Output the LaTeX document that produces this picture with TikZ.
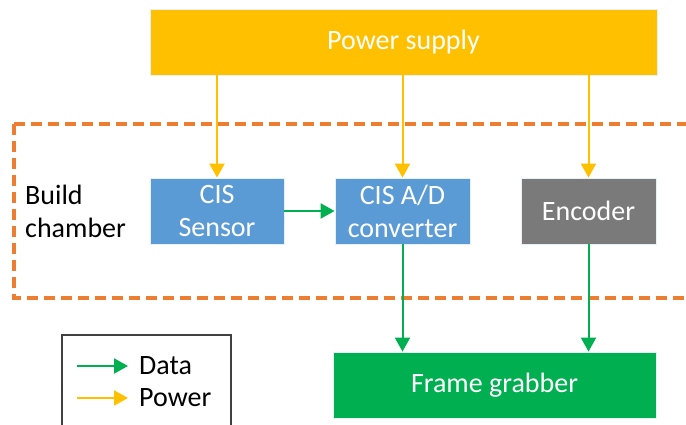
\documentclass[tikz,border=0pt]{standalone}
\usepackage{fontspec}
\setmainfont{Carlito}
\usetikzlibrary{arrows.meta}
\definecolor{psyellow}{HTML}{FFC000}
\definecolor{cisblue}{HTML}{5B9BD5}
\definecolor{encgray}{HTML}{7A7A7A}
\definecolor{datagreen}{HTML}{00B050}
\definecolor{chamberorange}{HTML}{ED7D31}
\definecolor{legendedge}{HTML}{404040}
\tikzset{
  block/.style={draw=white!85!cisblue, line width=0.8pt, text=white, align=center, font=\fontsize{28}{33}\selectfont, inner sep=0pt},
  powerline/.style={draw=psyellow, line width=2pt, -{Triangle[length=14pt,width=15pt]}},
  dataline/.style={draw=datagreen, line width=2pt, -{Triangle[length=14pt,width=15pt]}},
  lbl/.style={font=\fontsize{28}{33}\selectfont, align=left, inner sep=0pt}
}
\begin{document}
\begin{tikzpicture}[x=1pt,y=-1pt]
\useasboundingbox (0,0) rectangle (686,425);
% build chamber
\draw[chamberorange, line width=4pt, dash pattern=on 11pt off 6pt] (14,124) -- (700,124) (14,124) -- (14,298) -- (700,298);
\node[lbl, anchor=west] (chamber) at (25,211) {Build\\chamber};
% blocks
\node[block, fill=psyellow, minimum width=507pt, minimum height=66pt] (ps) at (403.5,42) {Power supply};
\node[block, fill=cisblue, minimum width=134pt, minimum height=66pt] (sensor) at (217,211) {CIS\\Sensor};
\node[block, fill=cisblue, minimum width=135pt, minimum height=66pt] (adc) at (402.5,211) {CIS A/D\\converter};
\node[block, fill=encgray, minimum width=135pt, minimum height=66pt] (enc) at (588.5,211) {Encoder};
\node[block, fill=datagreen, minimum width=323pt, minimum height=66pt] (fg) at (494.5,385) {Frame grabber};
% power connectors
\draw[powerline] (ps.south -| sensor.north) -- (sensor.north);
\draw[powerline] (ps.south -| adc.north) -- (adc.north);
\draw[powerline] (ps.south -| enc.north) -- (enc.north);
% data connectors
\draw[dataline] (sensor.east) -- (adc.west);
\draw[dataline] (adc.south) -- (adc.south |- fg.north);
\draw[dataline] (enc.south) -- (enc.south |- fg.north);
% legend
\draw[legendedge, line width=1.5pt] (62,440) -- (62,335) -- (231,335) -- (231,440);
\coordinate (d0) at (77,366);
\coordinate (d1) at (128,366);
\coordinate (p0) at (77,398);
\coordinate (p1) at (128,398);
\draw[dataline] (d0) -- (d1);
\draw[powerline] (p0) -- (p1);
\node[lbl, anchor=west] (ldata) at (139,366) {Data};
\node[lbl, anchor=west] (lpower) at (139,398) {Power};
\end{tikzpicture}
\end{document}
